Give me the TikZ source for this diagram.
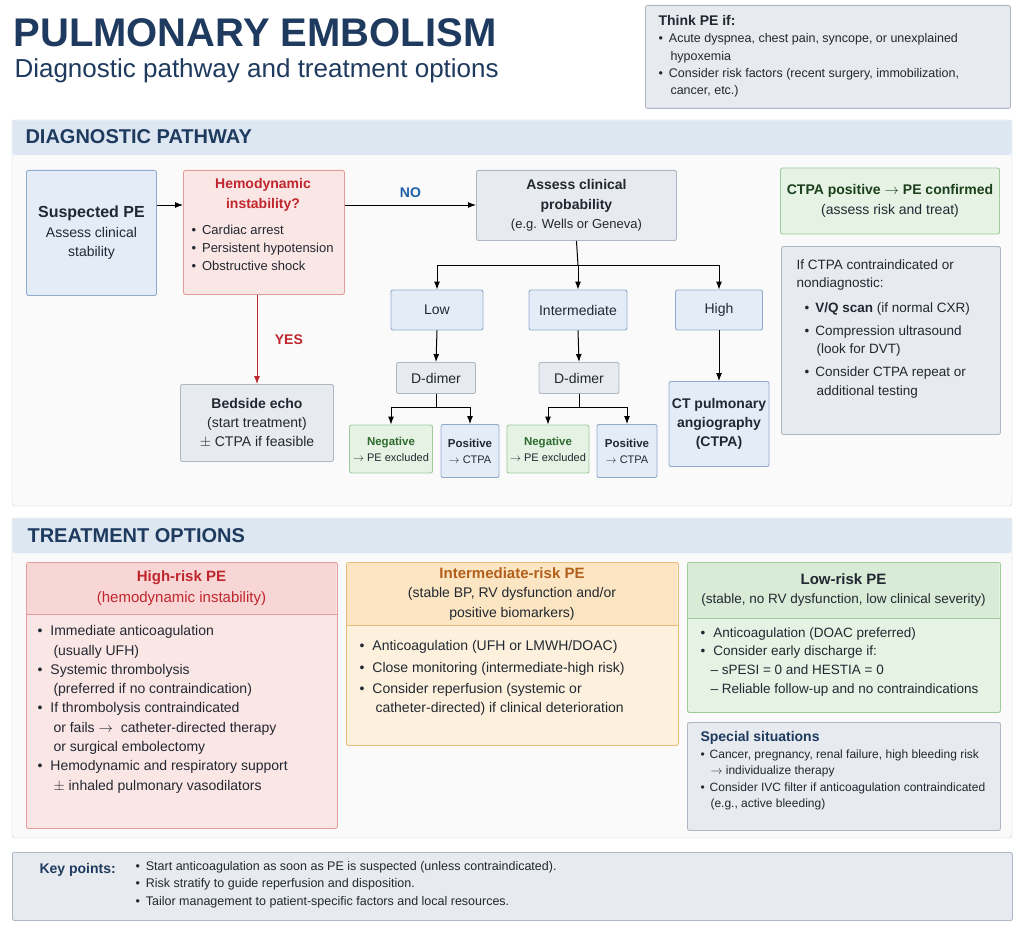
\documentclass[tikz,border=0pt]{standalone}
\usepackage{fontspec}
\setmainfont{Liberation Sans}
\usetikzlibrary{arrows.meta}
\definecolor{navy}{HTML}{1F3A5F}
\definecolor{redtxt}{HTML}{C0262D}
\definecolor{bluefill}{HTML}{E4EDF7}
\definecolor{blueline}{HTML}{8FAACC}
\definecolor{bandfill}{HTML}{DDE7F1}
\definecolor{redfill}{HTML}{FBE6E6}
\definecolor{redhead}{HTML}{F8D6D6}
\definecolor{redline}{HTML}{E39C9C}
\definecolor{grayfill}{HTML}{E7EAEF}
\definecolor{grayline}{HTML}{AEB7C4}
\definecolor{greenfill}{HTML}{E5F2E4}
\definecolor{greenhead}{HTML}{D8EBD6}
\definecolor{greenline}{HTML}{9FCB9C}
\definecolor{orfill}{HTML}{FDF1DE}
\definecolor{orhead}{HTML}{FBE5C2}
\definecolor{orline}{HTML}{E9BC78}
\definecolor{ortxt}{HTML}{B2601C}
\definecolor{notxt}{HTML}{1F5FA8}
\definecolor{txt}{HTML}{222831}
\definecolor{grntxt}{HTML}{2E6B2E}
\tikzset{
  fs/.style={font=\fontsize{#1}{\dimexpr #1pt*138/100\relax}\selectfont},
  box/.style={draw=#1line, fill=#1fill, line width=0.9pt, rounded corners=2pt, inner sep=0pt},
  lbl/.style={align=center, text=txt},
  lst/.style={anchor=north west, align=left, text=txt},
  arr/.style={-{Latex[length=8pt,width=6pt]}, line width=1pt, black},
}
\begin{document}
\begin{tikzpicture}[x=1pt,y=-1pt, font=\fontsize{14}{19}\selectfont]
\path[use as bounding box, fill=white] (0,0) rectangle (1024,936);

% title
\node[anchor=west, text=navy, font=\fontsize{40}{42}\selectfont\bfseries] (title) at (10,33) {PULMONARY EMBOLISM};
\node[anchor=west, text=navy, fs=26] (subtitle) at (11,71) {Diagnostic pathway and treatment options};

% think PE
\node[box=gray, minimum width=365, minimum height=103, anchor=north west] (think) at (645,5) {};
\node[lst, fs=12.5] (thinkT) at (655,12) {\textbf{\fontsize{14}{18}\selectfont Think PE if:}\\
\textbullet\hspace{6pt}Acute dyspnea, chest pain, syncope, or unexplained\\\hspace{12pt}hypoxemia\\
\textbullet\hspace{6pt}Consider risk factors (recent surgery, immobilization,\\\hspace{12pt}cancer, etc.)};

% diagnostic panel
\draw[draw=grayline!70, fill=gray!4, rounded corners=3pt] (12,120) rectangle (1012,506);
\fill[bandfill, rounded corners=3pt] (12.5,120.5) rectangle (1011.5,155);
\node[anchor=west, text=navy, font=\fontsize{20}{24}\selectfont\bfseries] (diag) at (22,137) {DIAGNOSTIC PATHWAY};

\node[box=blue, minimum width=130, minimum height=125, anchor=north west] (susp) at (26,170) {};
\node[lbl, fs=14] at (susp.center) {\textbf{\fontsize{16}{22}\selectfont Suspected PE}\\Assess clinical\\stability};

\node[box=red, minimum width=161, minimum height=124, anchor=north west] (hemo) at (183,170) {};
\node[lbl, text=redtxt, fs=14] (hemoT) at (263,195) {\textbf{Hemodynamic}\\\textbf{instability?}};
\node[lst, fs=13] at (188,222) {\textbullet\hspace{6pt}Cardiac arrest\\\textbullet\hspace{6pt}Persistent hypotension\\\textbullet\hspace{6pt}Obstructive shock};

\node[box=gray, minimum width=200, minimum height=70, anchor=north west] (assess) at (476,170) {};
\node[lbl, fs=14] at (assess.center) {\textbf{Assess clinical}\\\textbf{probability}\\\fontsize{13}{18}\selectfont(e.g. Wells or Geneva)};

\node[box=blue, minimum width=92, minimum height=40, text=txt] (low) at (437,310) {Low};
\node[box=blue, minimum width=98, minimum height=40, text=txt] (inter) at (578,310) {Intermediate};
\node[box=blue, minimum width=87, minimum height=40, text=txt] (high) at (719,310) {High};
\node[box=gray, minimum width=79, minimum height=31, text=txt] (dd1) at (436,378) {D-dimer};
\node[box=gray, minimum width=80, minimum height=31, text=txt] (dd2) at (579,378) {D-dimer};

\node[box=green, minimum width=83, minimum height=48, lbl, fs=11.5] (neg1) at (391,449) {\textbf{\textcolor{grntxt}{Negative}}\\\fontsize{11}{15}\selectfont$\rightarrow$ PE excluded};
\node[box=blue, minimum width=58, minimum height=53, lbl, fs=11.5] (pos1) at (470,451) {\textbf{Positive}\\\fontsize{11}{15}\selectfont$\rightarrow$ CTPA};
\node[box=green, minimum width=82, minimum height=48, lbl, fs=11.5] (neg2) at (548,449) {\textbf{\textcolor{grntxt}{Negative}}\\\fontsize{11}{15}\selectfont$\rightarrow$ PE excluded};
\node[box=blue, minimum width=60, minimum height=53, lbl, fs=11.5] (pos2) at (627,451) {\textbf{Positive}\\\fontsize{11}{15}\selectfont$\rightarrow$ CTPA};
\node[box=blue, minimum width=100, minimum height=85, lbl, fs=14] (ctpa) at (719,424) {\textbf{CT pulmonary}\\\textbf{angiography}\\\textbf{(CTPA)}};

\node[box=gray, minimum width=153, minimum height=77, lbl, fs=14] (echo) at (257,423) {\textbf{Bedside echo}\\(start treatment)\\$\pm$ CTPA if feasible};

\node[box=green, minimum width=219, minimum height=66, lbl, fs=14] (pos) at (890,201) {\textbf{\textcolor{grntxt!60!black}{CTPA positive $\rightarrow$ PE confirmed}}\\(assess risk and treat)};
\node[box=gray, minimum width=219, minimum height=188, anchor=north west] (alt) at (781,246) {};
\node[lst, fs=13.5] at (793,256) {If CTPA contraindicated or\\nondiagnostic:\\[6pt]
\hspace{8pt}\textbullet\hspace{6pt}\textbf{V/Q scan} (if normal CXR)\\[4pt]
\hspace{8pt}\textbullet\hspace{6pt}Compression ultrasound\\\hspace{20pt}(look for DVT)\\[4pt]
\hspace{8pt}\textbullet\hspace{6pt}Consider CTPA repeat or\\\hspace{20pt}additional testing};

% connectors
\draw[arr] (susp.east |- 0,205) -- (hemo.west |- 0,205);
\draw[arr] (hemo.east |- 0,205) -- node[above=4pt, text=notxt, font=\bfseries\fontsize{14}{16}\selectfont] {NO} (assess.west |- 0,205);
\draw[arr, redtxt] (hemo.south -| echo.north) -- node[right=14pt, text=redtxt, font=\bfseries\fontsize{14}{16}\selectfont] {YES} (echo.north);
\coordinate (br) at (578,265);
\draw[line width=1pt] (assess.south) -- (br);
\draw[arr] (br) -| (low.north);
\draw[arr] (br) -| (high.north);
\draw[arr] (br) -- (inter.north);
\draw[arr] (low.south) -- (dd1.north);
\draw[arr] (inter.south) -- (dd2.north);
\draw[arr] (dd1.south) -- ++(0,14) -| (neg1.north);
\draw[arr] (dd1.south) -- ++(0,14) -| (pos1.north);
\draw[arr] (dd2.south) -- ++(0,14) -| (neg2.north);
\draw[arr] (dd2.south) -- ++(0,14) -| (pos2.north);
\draw[arr] (high.south) -- (ctpa.north);

% treatment panel
\draw[draw=grayline!70, fill=gray!4, rounded corners=3pt] (12,518) rectangle (1012,838);
\fill[bandfill, rounded corners=3pt] (12.5,518.5) rectangle (1011.5,553);
\node[anchor=west, text=navy, font=\fontsize{20}{24}\selectfont\bfseries] (treat) at (24,536) {TREATMENT OPTIONS};

\node[box=red, minimum width=311, minimum height=266, anchor=north west] (hr) at (26,562) {};
\fill[redhead] (27,563) rectangle (336,614);
\draw[redline, line width=0.9pt] (26,614) -- (337,614);
\node[lbl, text=redtxt, fs=15] at (181.5,588) {\textbf{High-risk PE}\\(hemodynamic instability)};
\node[lst, fs=14] at (34,622) {\textbullet\hspace{8pt}Immediate anticoagulation\\\hspace{16pt}(usually UFH)\\
\textbullet\hspace{8pt}Systemic thrombolysis\\\hspace{16pt}(preferred if no contraindication)\\
\textbullet\hspace{8pt}If thrombolysis contraindicated\\\hspace{16pt}or fails $\rightarrow$\ \ catheter-directed therapy\\\hspace{16pt}or surgical embolectomy\\
\textbullet\hspace{8pt}Hemodynamic and respiratory support\\\hspace{16pt}$\pm$ inhaled pulmonary vasodilators};

\node[box=or, minimum width=332, minimum height=183, anchor=north west] (ir) at (346,562) {};
\fill[orhead] (347,563) rectangle (677,625);
\draw[orline, line width=0.9pt] (346,625) -- (678,625);
\node[lbl, fs=14] at (512,594) {\textbf{\textcolor{ortxt}{\fontsize{15}{20}\selectfont Intermediate-risk PE}}\\(stable BP, RV dysfunction and/or\\positive biomarkers)};
\node[lst, fs=14] at (356,637) {\textbullet\hspace{8pt}Anticoagulation (UFH or LMWH/DOAC)\\[2pt]
\textbullet\hspace{8pt}Close monitoring (intermediate-high risk)\\[2pt]
\textbullet\hspace{8pt}Consider reperfusion (systemic or\\\hspace{16pt}catheter-directed) if clinical deterioration};

\node[box=green, minimum width=313, minimum height=150, anchor=north west] (lr) at (687,562) {};
\fill[greenhead] (688,563) rectangle (999,618);
\draw[greenline, line width=0.9pt] (687,618) -- (1000,618);
\node[lbl, fs=13.5] at (843.5,590) {\textbf{\fontsize{15}{20}\selectfont Low-risk PE}\\(stable, no RV dysfunction, low clinical severity)};
\node[lst, fs=13.5] at (697,624) {\textbullet\hspace{8pt}Anticoagulation (DOAC preferred)\\
\textbullet\hspace{8pt}Consider early discharge if:\\
\hspace{10pt}-- sPESI = 0 and HESTIA = 0\\
\hspace{10pt}-- Reliable follow-up and no contraindications};

\node[box=gray, minimum width=313, minimum height=108, anchor=north west] (spec) at (687,722) {};
\node[lst, fs=12] at (697,728) {\textbf{\textcolor{navy}{\fontsize{14}{19}\selectfont Special situations}}\\
\textbullet\hspace{5pt}Cancer, pregnancy, renal failure, high bleeding risk\\\hspace{10pt}$\rightarrow$ individualize therapy\\
\textbullet\hspace{5pt}Consider IVC filter if anticoagulation contraindicated\\\hspace{10pt}(e.g., active bleeding)};

% key points
\node[box=gray, minimum width=1000, minimum height=68, anchor=north west] (key) at (12,852) {};
\node[anchor=west, text=navy, font=\bfseries\fontsize{14}{16}\selectfont] (keyT) at (36,870) {Key points:};
\node[lst, fs=12.5] at (132,858) {\textbullet\hspace{6pt}Start anticoagulation as soon as PE is suspected (unless contraindicated).\\
\textbullet\hspace{6pt}Risk stratify to guide reperfusion and disposition.\\
\textbullet\hspace{6pt}Tailor management to patient-specific factors and local resources.};
\end{tikzpicture}
\end{document}
